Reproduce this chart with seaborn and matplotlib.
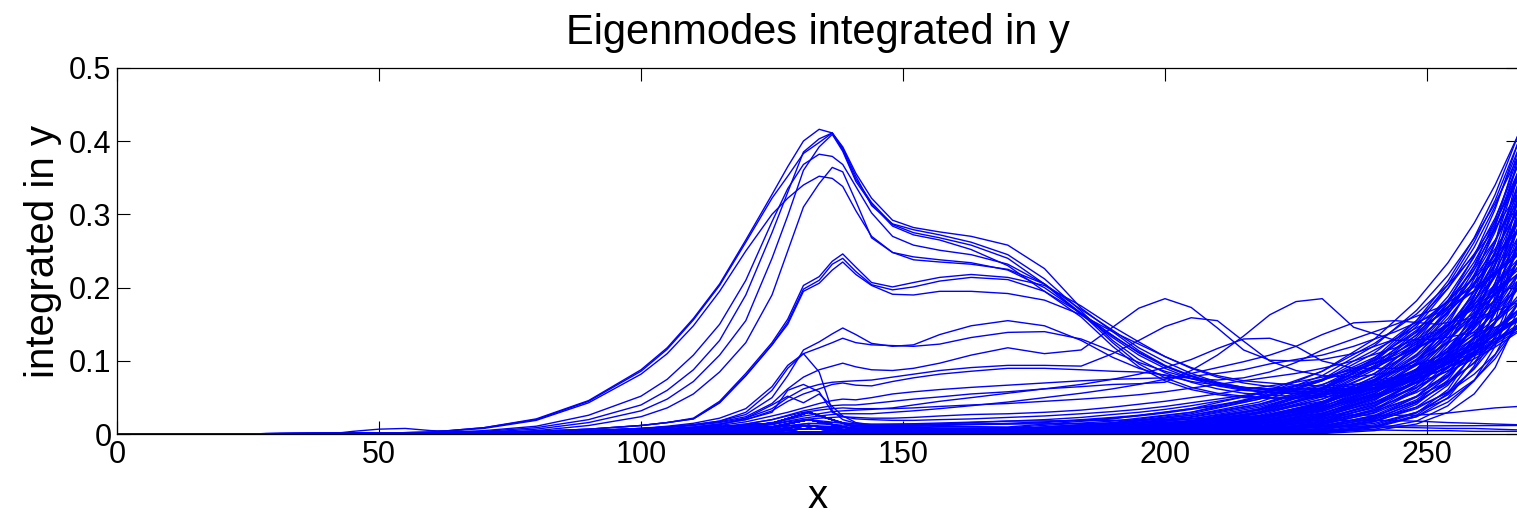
import matplotlib
matplotlib.use("Agg")
import matplotlib.pyplot as plt
import seaborn as sns
import pandas as pd

# ---------------- data ----------------
TITLE = "Eigenmodes integrated in y"
XLABEL = "x"
YLABEL = "integrated in y"
XTICKS = [0, 50, 100, 150, 200, 250]
YTICKS = [0, 0.1, 0.2, 0.3, 0.4, 0.5]
YTICK_LABELS = ["0", "0.1", "0.2", "0.3", "0.4", "0.5"]

# x grid for the modes with a visible peak around x = 130-140
PEAK_X = [0, 40, 60, 70, 80, 90, 100, 105, 110, 115, 120, 125, 128, 131, 134, 136.5, 138.5, 141,
          144, 148, 152, 157, 163, 170, 177, 184, 190, 195, 200, 205, 210, 215, 220, 225, 230, 236,
          244, 252, 260, 267.5]

A1 = [0, 0, .003, .009, .021, .046, .088, .118, .158, .205, .265, .327, .365, .400, .416, .411, .390, .352, .312, .287, .279, .272, .262, .245, .212, .168,
      .128, .102, .084, .071, .062, .056, .053, .052, .054, .058, .07, .092, .122, .16]
A2 = [0, 0, .003, .009, .020, .045, .086, .116, .156, .203, .262, .322, .352, .383, .398, .411, .392, .356, .322, .292, .282, .276, .270, .258, .226, .172,
      .14, .114, .094, .08, .069, .062, .057, .055, .055, .057, .066, .085, .112, .145]
A3 = [0, 0, .001, .004, .009, .020, .040, .060, .088, .128, .19, .275, .33, .385, .403, .411, .388, .348, .316, .286, .275, .268, .258, .24, .205, .165,
      .125, .096, .077, .064, .056, .052, .05, .049, .051, .055, .068, .09, .12, .158]
A4 = [0, 0, .002, .005, .011, .026, .052, .075, .108, .15, .21, .29, .335, .368, .382, .379, .368, .338, .302, .27, .258, .251, .245, .232, .205, .163,
      .132, .108, .09, .076, .066, .06, .057, .056, .058, .062, .076, .098, .128, .165]
A5 = [0, 0, .001, .002, .005, .012, .024, .036, .055, .085, .125, .19, .25, .31, .342, .364, .358, .318, .268, .248, .242, .238, .234, .224, .2, .165,
      .135, .111, .093, .079, .068, .061, .058, .056, .056, .058, .068, .086, .113, .148]
A6 = [0, 0, .003, .008, .019, .043, .082, .11, .148, .195, .25, .3, .322, .34, .352, .349, .338, .305, .27, .248, .238, .235, .232, .225, .205, .17,
      .142, .118, .099, .083, .071, .064, .06, .058, .059, .061, .072, .093, .122, .158]
A7 = [0, 0, .001, .003, .007, .016, .032, .048, .072, .108, .155, .24, .298, .36, .392, .409, .386, .345, .314, .284, .272, .265, .252, .23, .195, .16,
      .12, .092, .073, .061, .054, .05, .049, .05, .054, .06, .075, .1, .135, .18]
B1 = [0, 0, .001, .002, .004, .007, .012, .016, .022, .045, .083, .125, .157, .203, .215, .236, .246, .228, .207, .201, .207, .214, .218, .214, .203, .175,
      .147, .126, .106, .09, .078, .07, .065, .062, .061, .063, .071, .089, .116, .15]
B2 = [0, 0, .001, .002, .004, .007, .012, .016, .021, .043, .080, .122, .153, .198, .210, .232, .240, .222, .204, .197, .201, .209, .214, .211, .195, .165,
      .134, .112, .093, .079, .07, .064, .06, .058, .058, .06, .068, .085, .11, .142]
B3 = [0, 0, .001, .002, .004, .007, .012, .016, .021, .043, .080, .122, .150, .195, .206, .224, .235, .218, .203, .191, .19, .195, .195, .192, .183, .163,
      .14, .123, .106, .091, .08, .073, .07, .067, .066, .068, .078, .096, .125, .16]
C1 = [0, 0, .001, .002, .003, .005, .008, .010, .013, .018, .027, .050, .080, .115, .126, .137, .145, .136, .124, .120, .122, .136, .148, .155, .148, .128,
      .105, .09, .08, .072, .067, .063, .062, .062, .063, .066, .076, .095, .122, .155]
C2 = [0, 0, .001, .002, .003, .005, .008, .010, .013, .018, .030, .060, .090, .110, .118, .125, .131, .125, .122, .121, .120, .123, .132, .139, .14, .13,
      .113, .098, .086, .076, .069, .064, .062, .06, .061, .063, .072, .09, .115, .145]
C4 = [0, 0, .001, .002, .003, .004, .006, .008, .010, .014, .02, .032, .045, .055, .062, .068, .07, .067, .066, .072, .077, .082, .086, .09, .09, .088,
      .086, .085, .081, .076, .074, .077, .085, .098, .115, .13, .15, .172, .205, .245]
C5 = [0, 0, .001, .001, .002, .003, .005, .007, .009, .012, .017, .025, .03, .036, .042, .046, .048, .047, .05, .055, .058, .061, .064, .067, .07, .073,
      .075, .076, .077, .079, .083, .088, .096, .102, .108, .12, .14, .165, .2, .245]
C6 = [0, 0, 0, .001, .001, .002, .004, .005, .007, .01, .014, .02, .025, .03, .033, .035, .036, .035, .035, .035, .036, .038, .04, .042, .045, .048,
      .051, .054, .058, .063, .068, .073, .078, .083, .09, .1, .118, .142, .175, .22]
C7 = [0, 0, 0, 0, .001, .001, .002, .003, .004, .006, .009, .013, .017, .02, .022, .023, .024, .023, .022, .022, .023, .025, .027, .028, .03, .033,
      .037, .041, .045, .05, .055, .061, .066, .071, .078, .088, .105, .13, .165, .21]
C8 = [0, 0, 0, 0, 0, .001, .001, .002, .003, .004, .006, .009, .012, .014, .015, .016, .016, .014, .013, .013, .013, .014, .016, .018, .02, .023,
      .027, .03, .034, .039, .045, .051, .058, .065, .074, .086, .108, .138, .18, .235]
D1 = [0, 0, .001, .002, .003, .005, .008, .010, .013, .017, .024, .042, .062, .078, .088, .093, .097, .092, .088, .087, .09, .097, .108, .118, .11, .115,
      .146, .172, .185, .173, .145, .115, .101, .1, .102, .11, .13, .16, .2, .25]
D2 = [0, 0, .001, .002, .003, .004, .007, .009, .012, .016, .022, .035, .05, .062, .068, .071, .072, .073, .074, .078, .082, .087, .091, .094, .094, .093,
      .11, .128, .147, .159, .155, .127, .1, .087, .08, .078, .085, .105, .14, .185]
D3 = [0, 0, .001, .001, .002, .003, .004, .006, .008, .01, .014, .02, .026, .032, .036, .039, .04, .04, .042, .045, .048, .051, .055, .058, .062, .065,
      .068, .069, .071, .087, .108, .134, .163, .181, .185, .146, .128, .13, .14, .155]
D4 = [0, 0, 0, .001, .001, .002, .003, .004, .006, .008, .011, .016, .02, .025, .028, .031, .032, .033, .034, .036, .04, .045, .05, .056, .062, .068,
      .075, .082, .091, .102, .117, .13, .131, .12, .1, .09, .09, .1, .12, .145]
D5 = [0, 0, 0, .001, .001, .002, .003, .004, .005, .007, .01, .014, .018, .022, .025, .027, .028, .028, .028, .03, .032, .035, .039, .044, .05, .056,
      .062, .068, .075, .083, .091, .099, .108, .12, .136, .152, .155, .15, .16, .18]
S1 = [0, 0, .001, .002, .003, .005, .008, .011, .015, .022, .035, .065, .094, .11, .085, .032, .02, .015, .012, .011, .011, .012, .013, .014, .016, .019,
      .022, .025, .029, .034, .039, .045, .055, .063, .075, .1, .13, .17, .22, .28]
S2 = [0, 0, 0, .001, .002, .003, .005, .007, .01, .014, .02, .03, .06, .068, .058, .03, .024, .021, .02, .019, .019, .02, .021, .023, .025, .028,
      .031, .034, .038, .043, .048, .053, .06, .067, .075, .09, .112, .14, .178, .225]
S3 = [0, 0, 0, .001, .001, .002, .004, .006, .009, .013, .022, .04, .052, .043, .055, .038, .025, .016, .013, .012, .012, .013, .014, .015, .017, .02,
      .023, .026, .03, .035, .04, .046, .053, .06, .068, .082, .104, .132, .17, .22]

PEAK_CURVES = {"A1": A1, "A2": A2, "A3": A3, "A4": A4, "A5": A5, "A6": A6, "A7": A7,
               "B1": B1, "B2": B2, "B3": B3, "C1": C1, "C2": C2, "C4": C4, "C5": C5,
               "C6": C6, "C7": C7, "C8": C8, "D1": D1, "D2": D2, "D3": D3, "D4": D4,
               "D5": D5, "S1": S1, "S2": S2, "S3": S3}

# x grid for the many modes that grow towards the right edge
TAIL_X = [0, 100, 125, 132, 140, 170, 190, 205, 218, 230, 240, 248, 254, 259, 263, 267.5]
TAIL = [
    [0, .001, .004, .008, .004, .007, .016, .030, .052, .086, .130, .182, .234, .288, .340, .41],
    [0, .002, .01, .02, .008, .007, .015, .028, .048, .080, .121, .169, .217, .267, .315, .38],
    [0, 0, .002, .003, .002, .006, .014, .026, .044, .073, .111, .155, .199, .246, .290, .35],
    [0, .003, .015, .03, .012, .006, .013, .024, .041, .067, .102, .142, .182, .225, .265, .32],
    [0, .001, .006, .012, .005, .005, .011, .021, .037, .061, .092, .129, .165, .204, .240, .29],
    [0, 0, .001, .002, .001, .004, .010, .019, .033, .054, .083, .115, .148, .182, .216, .26],
    [0, .001, .004, .008, .004, .004, .009, .017, .029, .048, .073, .102, .131, .161, .191, .23],
    [0, .002, .01, .02, .008, .003, .008, .015, .025, .042, .064, .089, .114, .140, .166, .20],
    [0, 0, .002, .003, .002, .003, .007, .013, .022, .036, .054, .075, .097, .119, .141, .17],
    [0, .003, .015, .03, .012, .010, .021, .035, .056, .086, .124, .164, .204, .244, .281, .33],
    [0, .001, .006, .012, .006, .009, .018, .030, .048, .073, .105, .139, .173, .207, .238, .28],
    [0, 0, .001, .002, .003, .007, .015, .026, .041, .063, .090, .120, .148, .177, .204, .24],
    [0, .001, .004, .008, .005, .006, .013, .021, .034, .052, .075, .100, .124, .148, .170, .20],
    [0, .002, .01, .02, .008, .005, .011, .018, .029, .045, .064, .085, .105, .125, .145, .17],
    [0, 0, .002, .003, .003, .004, .009, .015, .024, .037, .052, .070, .086, .103, .119, .14],
    [0, .003, .015, .03, .012, .003, .009, .018, .035, .063, .104, .155, .209, .268, .327, .41],
    [0, .001, .006, .012, .005, .003, .008, .017, .033, .060, .099, .147, .199, .255, .311, .39],
    [0, 0, .001, .002, .001, .003, .008, .016, .031, .057, .094, .140, .188, .242, .295, .37],
    [0, .001, .004, .008, .004, .003, .007, .015, .029, .054, .088, .132, .178, .229, .279, .35],
    [0, .002, .01, .02, .008, .003, .007, .014, .028, .051, .083, .124, .168, .216, .264, .33],
    [0, 0, .002, .003, .002, .002, .006, .014, .026, .048, .078, .117, .158, .203, .248, .31],
    [0, .003, .015, .03, .012, .002, .006, .013, .024, .044, .073, .109, .148, .190, .232, .29],
    [0, .001, .006, .012, .005, .002, .006, .012, .023, .041, .068, .102, .137, .177, .216, .27],
    [0, 0, .001, .002, .001, .002, .005, .011, .021, .038, .063, .094, .127, .163, .200, .25],
    [0, .001, .004, .008, .004, .002, .005, .010, .019, .035, .058, .087, .117, .150, .184, .23],
    [0, .002, .01, .02, .008, .002, .004, .009, .018, .032, .053, .079, .107, .137, .168, .21],
    [0, 0, .002, .003, .002, .001, .004, .008, .016, .029, .048, .072, .097, .124, .152, .19],
    [0, .003, .015, .03, .012, .001, .004, .007, .014, .026, .043, .064, .087, .111, .136, .17],
    [0, .001, .006, .012, .005, .001, .004, .010, .022, .044, .079, .127, .181, .243, .307, .40],
    [0, 0, .001, .002, .001, .001, .004, .010, .021, .042, .075, .121, .172, .230, .292, .38],
    [0, .001, .004, .008, .004, .001, .004, .009, .020, .040, .071, .114, .163, .218, .276, .36],
    [0, .002, .01, .02, .008, .001, .004, .009, .018, .037, .067, .108, .154, .206, .261, .34],
    [0, 0, .002, .003, .002, .001, .003, .008, .017, .035, .063, .102, .145, .194, .246, .32],
    [0, .003, .015, .03, .012, .001, .003, .008, .016, .033, .059, .095, .136, .182, .230, .30],
    [0, .001, .006, .012, .005, .001, .003, .007, .015, .031, .056, .089, .127, .170, .215, .28],
    [0, 0, .001, .002, .001, .001, .003, .007, .014, .029, .052, .083, .118, .158, .200, .26],
    [0, .001, .004, .008, .004, .001, .003, .006, .013, .026, .048, .076, .108, .146, .184, .24],
    [0, .002, .01, .02, .008, .001, .002, .006, .012, .024, .044, .070, .099, .133, .169, .22],
    [0, 0, .002, .003, .002, .001, .002, .005, .011, .022, .040, .064, .090, .121, .154, .20],
    [0, .003, .015, .03, .012, .001, .002, .005, .010, .020, .036, .057, .081, .109, .138, .18],
    [0, .001, .006, .012, .005, .001, .002, .004, .009, .018, .032, .051, .072, .097, .123, .16],
    [0, 0, .001, .002, .001, 0, .002, .004, .011, .027, .055, .097, .149, .212, .283, .39],
    [0, .001, .004, .008, .004, 0, .001, .004, .010, .025, .051, .089, .137, .196, .261, .36],
    [0, .002, .01, .02, .008, 0, .001, .004, .010, .023, .046, .082, .126, .180, .239, .33],
    [0, 0, .002, .003, .002, 0, .001, .003, .009, .021, .042, .074, .114, .163, .218, .30],
    [0, .003, .015, .03, .012, 0, .001, .003, .008, .018, .038, .067, .103, .147, .196, .27],
    [0, .001, .006, .012, .005, 0, .001, .003, .007, .016, .034, .060, .091, .131, .174, .24],
    [0, 0, .001, .002, .001, 0, .001, .002, .006, .014, .029, .052, .080, .114, .152, .21],
    [0, .001, .004, .008, .004, 0, .001, .002, .005, .012, .025, .045, .069, .098, .131, .18],
    [0, .002, .01, .02, .008, 0, .001, .002, .004, .010, .021, .037, .057, .082, .109, .15],
    [0, 0, .002, .003, .002, 0, .001, .002, .006, .017, .038, .075, .123, .187, .261, .38],
    [0, .003, .015, .03, .012, 0, .001, .002, .006, .015, .034, .067, .110, .167, .234, .34],
    [0, .001, .006, .012, .005, 0, 0, .002, .005, .013, .030, .059, .097, .148, .206, .30],
    [0, 0, .001, .002, .001, 0, 0, .001, .004, .011, .026, .051, .084, .128, .179, .26],
    [0, .001, .004, .008, .004, 0, 0, .001, .004, .010, .022, .043, .071, .108, .151, .22],
    [0, .002, .01, .02, .008, 0, 0, .001, .003, .008, .018, .035, .058, .089, .124, .18],
    [0, 0, .002, .003, .002, 0, 0, .001, .002, .007, .015, .030, .049, .074, .103, .15],
    [0, .003, .015, .03, .012, 0, 0, .001, .003, .008, .023, .051, .093, .154, .230, .36],
    [0, .001, .006, .012, .005, 0, 0, .001, .002, .007, .020, .044, .080, .132, .198, .31],
    [0, 0, .001, .002, .001, 0, 0, 0, .002, .006, .017, .037, .067, .111, .166, .26],
    [0, .001, .004, .008, .004, 0, 0, 0, .001, .005, .013, .030, .054, .090, .134, .21],
    [0, .002, .01, .02, .008, 0, 0, 0, .001, .004, .011, .024, .044, .073, .108, .17],
    [0, 0, .002, .003, .002, 0, 0, 0, .001, .003, .011, .029, .061, .114, .188, .33],
    [0, .003, .015, .03, .012, 0, 0, 0, .001, .002, .009, .024, .050, .093, .154, .27],
    [0, .001, .006, .012, .005, 0, 0, 0, 0, .002, .007, .018, .039, .073, .120, .21],
    [0, 0, .001, .002, .001, 0, 0, 0, 0, .001, .005, .014, .030, .055, .091, .16],
    [0, .001, .004, .008, .004, .005, .012, .023, .039, .064, .097, .135, .174, .214, .253, .305],
    [0, .002, .01, .02, .008, .003, .007, .014, .024, .039, .059, .082, .105, .130, .153, .185],
    [0, 0, .002, .003, .002, .003, .008, .018, .034, .061, .101, .151, .204, .262, .319, .40],
    [0, .003, .015, .03, .012, .003, .007, .016, .030, .055, .091, .136, .183, .235, .287, .36],
    [0, .001, .006, .012, .005, .002, .006, .012, .024, .043, .071, .106, .143, .183, .224, .28],
    [0, 0, .001, .002, .001, .002, .005, .010, .019, .034, .056, .083, .112, .144, .176, .22],
    [0, .001, .004, .008, .004, .001, .004, .009, .020, .041, .073, .118, .167, .224, .284, .37],
    [0, .002, .01, .02, .008, .001, .003, .008, .017, .034, .061, .098, .140, .188, .238, .31],
    [0, 0, .002, .003, .002, .001, .003, .006, .014, .028, .050, .079, .113, .152, .192, .25],
    [0, .003, .015, .03, .012, 0, .001, .004, .010, .024, .048, .086, .131, .188, .250, .345],
    [0, .001, .006, .012, .005, 0, .001, .003, .008, .020, .040, .071, .109, .155, .207, .285],
    [0, 0, .001, .002, .001, 0, .001, .002, .005, .014, .032, .063, .104, .158, .220, .32],
    [0, .001, .004, .008, .004, 0, 0, .001, .004, .011, .024, .047, .078, .118, .165, .24],
    [0, .002, .01, .02, .008, 0, 0, .001, .002, .007, .018, .041, .074, .122, .182, .285],
    [0, 0, .002, .003, .002, 0, 0, 0, .001, .003, .010, .026, .056, .104, .171, .30],
    # low, nearly flat modes
    [0, .001, .008, .015, .012, .018, .019, .021, .025, .027, .026, .026, .029, .033, .036, .038],
    [0, .001, .01, .02, .014, .014, .015, .017, .018, .019, .019, .018, .016, .015, .014, .013],
    [0, .001, .006, .012, .008, .008, .009, .009, .01, .01, .01, .009, .008, .008, .007, .006],
    [0, .001, .004, .008, .005, .004, .005, .005, .006, .006, .006, .005, .005, .004, .004, .004],
]

# small early bump near x = 50
LB_X = [0, 40, 45, 50, 55, 60, 70, 90, 110, 130, 150, 200, 267.5]
LB_Y = [0, 0, .004, .007, .008, .005, .003, .003, .006, .012, .008, .01, .012]

# ---------------- long-form table ----------------
rows = []
for name, ys in PEAK_CURVES.items():
    if len(ys) != len(PEAK_X):
        raise ValueError(f"{name}: {len(ys)} values, expected {len(PEAK_X)}")
    rows += [(name, x, y) for x, y in zip(PEAK_X, ys)]
for i, ys in enumerate(TAIL):
    if len(ys) != len(TAIL_X):
        raise ValueError(f"T{i}: {len(ys)} values, expected {len(TAIL_X)}")
    rows += [(f"T{i}", x, y) for x, y in zip(TAIL_X, ys)]
rows += [("LB", x, y) for x, y in zip(LB_X, LB_Y)]
df = pd.DataFrame(rows, columns=["curve", "x", "y"])

# ---------------- drawing ----------------
sns.set_theme(style="ticks")
plt.rcParams["font.family"] = ["Liberation Sans", "DejaVu Sans"]

W, H = 1517, 514
fig = plt.figure(figsize=(W / 100, H / 100), dpi=100)
ppu = 5.24  # pixels per x unit in the reference
ax = fig.add_axes([117 / W, (H - 434.3) / H, 267.5 * ppu / W, (434.3 - 67.7) / H])

sns.lineplot(data=df, x="x", y="y", units="curve", estimator=None, sort=False,
             color=(0, 0, 1), linewidth=1.0, legend=False, ax=ax)

ax.set_xlim(0, 267.5)
ax.set_ylim(0, 0.5)
ax.set_xticks(XTICKS)
ax.set_xticklabels([str(t) for t in XTICKS])
ax.set_yticks(YTICKS)
ax.set_yticklabels(YTICK_LABELS)
ax.tick_params(direction="in", length=9.5, width=0.8, colors="black",
               top=True, bottom=True, left=True, right=True, labelsize=22, pad=4)
for s in ax.spines.values():
    s.set_color("black")
    s.set_linewidth(0.9)
ax.set_title(TITLE, fontsize=30, pad=17, color="black")
ax.set_xlabel(XLABEL, fontsize=29, labelpad=6, color="black")
ax.set_ylabel(YLABEL, fontsize=29, labelpad=5, color="black")
ax.set_facecolor("white")
fig.patch.set_facecolor("white")

fig.savefig("out.png", dpi=100)
